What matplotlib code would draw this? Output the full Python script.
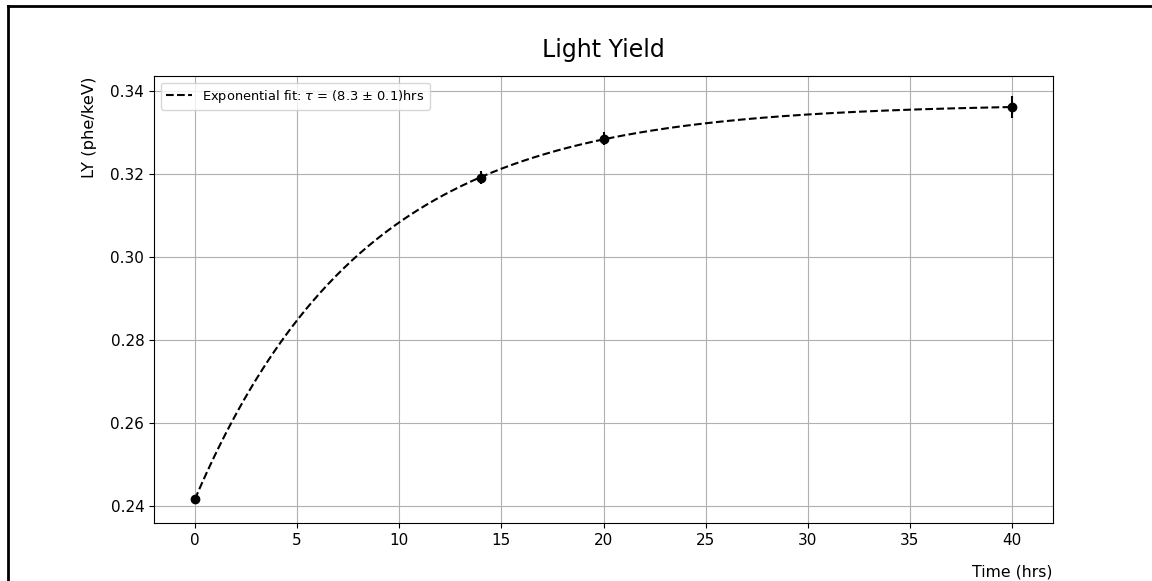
import numpy as np
import matplotlib
matplotlib.use("Agg")
import matplotlib.pyplot as plt
from matplotlib.lines import Line2D

# Data
time_hrs = [0, 14, 20, 40]
ly_values = [0.2416, 0.3190, 0.3284, 0.3360]
ly_errors = [0.0006, 0.0016, 0.0015, 0.0026]

# Exponential fit parameters: LY(t) = A - B * exp(-t / tau)
fit_A = 0.3368
fit_B = 0.0952
fit_tau = 8.3
fit_label = r"Exponential fit: $\tau$ = (8.3 $\pm$ 0.1)hrs"

fig = plt.figure(figsize=(11.52, 5.81), dpi=100)
ax = fig.add_axes([154/1152, 1 - 523/581, (1053-154)/1152, (523-76)/581])

t_fit = np.linspace(min(time_hrs), max(time_hrs), 400)
ly_fit = fit_A - fit_B * np.exp(-t_fit / fit_tau)
ax.plot(t_fit, ly_fit, linestyle='--', color='black', linewidth=1.5, label=fit_label)
ax.errorbar(time_hrs, ly_values, yerr=ly_errors, fmt='o', color='black',
            markersize=6, elinewidth=1.5, capsize=0)

ax.set_xlim(-2, 42)
ax.set_ylim(0.2359, 0.3435)
ax.set_yticks([0.24, 0.26, 0.28, 0.30, 0.32, 0.34])
ax.set_xticks([0, 5, 10, 15, 20, 25, 30, 35, 40])
ax.tick_params(labelsize=11)
ax.grid(True, color='#b0b0b0', linewidth=0.8)
ax.set_axisbelow(True)

ax.set_title("Light Yield", fontsize=17, pad=14)
ax.set_xlabel("Time (hrs)", loc='right', fontsize=11.3, labelpad=12)
ax.set_ylabel("LY (phe/keV)", loc='top', fontsize=11.8, labelpad=10)
ax.legend(loc='upper left', fontsize=9.4)

# Frame lines of the cropped screenshot
fig.add_artist(Line2D([7.5/1152, 1], [1 - 5.5/581, 1 - 5.5/581], color='black', linewidth=2.0, transform=fig.transFigure))
fig.add_artist(Line2D([7.5/1152, 7.5/1152], [0, 1 - 5.5/581], color='black', linewidth=2.0, transform=fig.transFigure))

fig.savefig("out.png", dpi=100)
